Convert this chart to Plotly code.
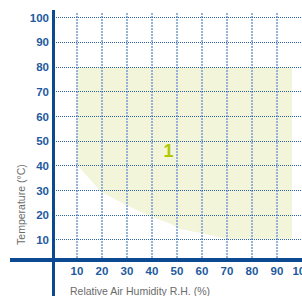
import plotly.graph_objects as go

# Data
x_ticks = [10, 20, 30, 40, 50, 60, 70, 80, 90, 100]
y_ticks = [10, 20, 30, 40, 50, 60, 70, 80, 90, 100]
# Zone 1 boundary (relative humidity %, temperature °C)
zone_top = 80
zone_left = 10
zone_right = 96
zone_curve_rh = [10, 19.5, 29.5, 40, 47, 51, 60, 68, 70, 96]
zone_curve_t = [40.5, 29.6, 24.2, 19.3, 16.8, 14.5, 12.7, 10.8, 10.5, 10.5]
zone_label = "1"
zone_label_pos = (46.6, 45.3)

AXIS = "#0b4a93"
TICK = "#1d5a9e"
GRID_H = "#2d64a8"
GRID_V = "#98b1d6"
FILL = "#f2f5d9"
GREY = "#6b6b6b"

fig = go.Figure()

px = [zone_left, zone_right] + zone_curve_rh[::-1]
py = [zone_top, zone_top] + zone_curve_t[::-1]
path = "M " + " L ".join(f"{a},{b}" for a, b in zip(px, py)) + " Z"
fig.add_shape(type="path", path=path, xref="x", yref="y",
              fillcolor=FILL, line=dict(width=0), layer="below")

fig.add_trace(go.Scatter(x=[zone_label_pos[0]], y=[zone_label_pos[1]], mode="text",
                         text=[zone_label],
                         textfont=dict(size=18, color="#b2c800", family="Liberation Sans", weight="bold"),
                         hoverinfo="skip", showlegend=False))

fig.update_xaxes(range=[0, 100], tickvals=x_ticks, showgrid=True, gridcolor=GRID_V,
                 griddash="2px,1px", gridwidth=1.5, zeroline=False, showline=False,
                 ticks="", ticklabelstandoff=2, ticklabeloverflow="allow", automargin=False,
                 tickfont=dict(size=11.5, color=TICK, family="Liberation Sans", weight="bold"))
fig.update_yaxes(range=[1.9, 101.9], tickvals=y_ticks, showgrid=True, gridcolor=GRID_H,
                 griddash="1px,1px", gridwidth=1, zeroline=False, showline=False,
                 ticks="", ticklabelstandoff=2, automargin=False,
                 tickfont=dict(size=11.5, color=TICK, family="Liberation Sans", weight="bold"))

fig.add_shape(type="line", xref="paper", yref="paper", x0=-0.168, x1=1.0, y0=0, y1=0,
              line=dict(color=AXIS, width=4), layer="above")
fig.add_shape(type="line", xref="x", yref="paper", x0=0.4, x1=0.4, y0=-0.146, y1=1.012,
              line=dict(color=AXIS, width=4), layer="above")

fig.add_annotation(text="Temperature (°C)", xref="paper", yref="paper",
                   x=-0.124, y=0.223, xanchor="center", yanchor="middle",
                   showarrow=False, textangle=-90,
                   font=dict(size=10.5, color=GREY, family="Liberation Sans"))
fig.add_annotation(text="Relative Air Humidity R.H. (%)", xref="paper", yref="paper",
                   x=0.352, y=-0.1255, xanchor="center", yanchor="middle",
                   showarrow=False,
                   font=dict(size=10.5, color=GREY, family="Liberation Sans"))

fig.update_layout(width=302, height=296, margin=dict(l=52, r=0, t=13, b=36, autoexpand=False),
                  plot_bgcolor="white", paper_bgcolor="white", showlegend=False)

fig.write_html("out.html", config={"displayModeBar": False},
               post_script="document.body.style.margin='0';document.body.style.padding='0';"
                           "document.body.style.overflow='hidden';"
                           "document.documentElement.style.overflow='hidden';")
